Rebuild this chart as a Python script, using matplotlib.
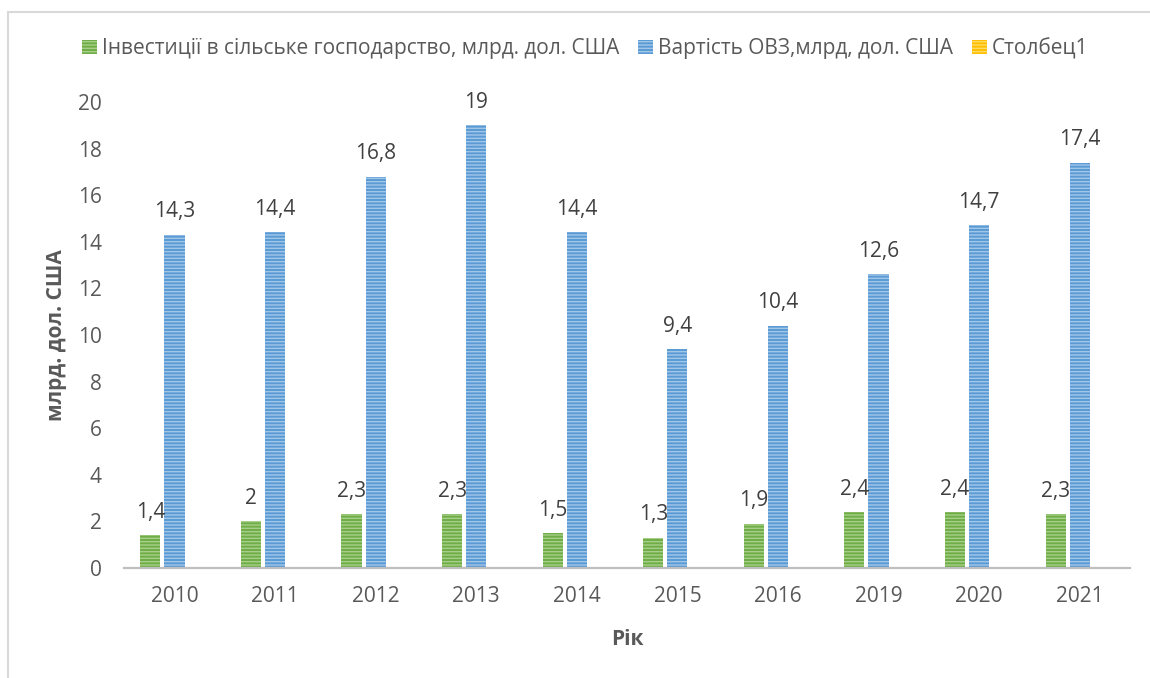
import matplotlib
matplotlib.use("Agg")
from matplotlib import pyplot as plt
from matplotlib.patches import Rectangle
import numpy as np

# chart data
years = ['2010', '2011', '2012', '2013', '2014', '2015', '2016', '2019', '2020', '2021']
invest = [1.4, 2, 2.3, 2.3, 1.5, 1.3, 1.9, 2.4, 2.4, 2.3]
ovz = [14.3, 14.4, 16.8, 19, 14.4, 9.4, 10.4, 12.6, 14.7, 17.4]
col1 = [0, 0, 0, 0, 0, 0, 0, 0, 0, 0]

names = ['Інвестиції в сільське господарство, млрд. дол. США',
         'Вартість ОВЗ,млрд, дол. США',
         'Столбец1']

plt.rcParams['font.family'] = ['Open Sans', 'DejaVu Sans']
plt.rcParams['hatch.linewidth'] = 1.0
txt = '#595959'
fs = 15

fig = plt.figure(figsize=(11.5, 6.78), dpi=100)
ax = fig.add_axes([0.108, 0.1622, 0.8746, 0.6874])

x = np.arange(len(years))
w = 0.2
off = 0.24
b1 = ax.bar(x - off, invest, w, color='#70AD47', edgecolor='#A6CF8A', linewidth=0, hatch='-----')
b2 = ax.bar(x, ovz, w, color='#5B9BD5', edgecolor='#A2C6E8', linewidth=0, hatch='-----')
b3 = ax.bar(x + off, col1, w, color='#FFC000', edgecolor='#FFD966', linewidth=0, hatch='-----')

def fmt(v):
    s = ('%g' % v).replace('.', ',')
    return s

for bars, vals in ((b1, invest), (b2, ovz)):
    for r, v in zip(bars, vals):
        ax.annotate(fmt(v), (r.get_x() + r.get_width() / 2, v), xytext=(0, 12.5),
                    textcoords='offset points', ha='center', va='baseline',
                    fontsize=fs, color='#404040', clip_on=False)

ax.set_xlim(-0.5, len(years) - 0.5)
ax.set_ylim(0, 20)
ax.set_yticks(range(0, 21, 2))
ax.set_xticks(x)
ax.set_xticklabels(years)
ax.tick_params(axis='both', length=0, labelsize=fs, labelcolor=txt)
ax.tick_params(axis='y', pad=16)
ax.tick_params(axis='x', pad=13)

for s in ('top', 'right', 'left'):
    ax.spines[s].set_visible(False)
ax.spines['bottom'].set_color('#BFBFBF')
ax.spines['bottom'].set_linewidth(1.6)

ax.set_ylabel('млрд. дол. США', fontsize=fs, fontweight='bold', color=txt, labelpad=8)
ax.set_xlabel('Рік', fontsize=fs, fontweight='bold', color=txt, labelpad=16)

fig.legend([b1, b2, b3], names, loc='center', bbox_to_anchor=(0.509, 0.928), ncol=3,
           frameon=False, fontsize=fs, labelcolor=txt, handlelength=0.7, handleheight=0.7,
           handletextpad=0.25, columnspacing=0.9)

fig.patches.append(Rectangle((7.5 / 1150, -0.1), 1.2, 0.1 + (678 - 11.5) / 678,
                             transform=fig.transFigure, fill=False,
                             edgecolor='#D9D9D9', linewidth=1.5))

fig.savefig('out.png', dpi=100)
